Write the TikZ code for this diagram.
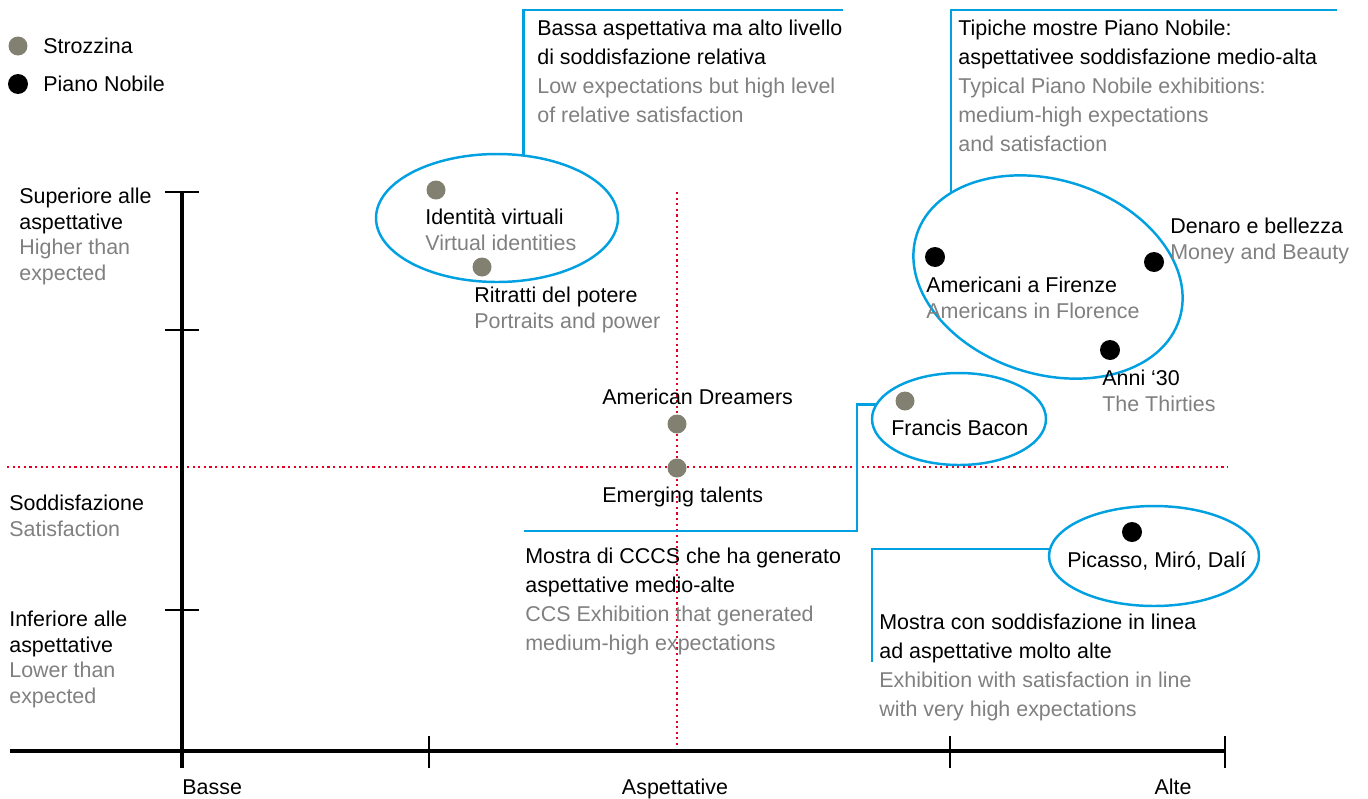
\documentclass[tikz,border=0pt]{standalone}
\usepackage{fontspec}
\setmainfont{Liberation Sans}
\usetikzlibrary{shapes.geometric}
\definecolor{engray}{RGB}{128,128,128}
\definecolor{strozgray}{RGB}{130,128,112}
\definecolor{leadblue}{RGB}{0,160,225}
\definecolor{axred}{RGB}{228,0,35}
\newcommand{\eng}[1]{\textcolor{engray}{#1}}
\tikzstyle{lbl} = [inner sep=0, anchor=base west, align=left, font=\fontsize{12.2}{14.8}\selectfont]
\tikzstyle{note} = [lbl, font=\fontsize{12.2}{16.5}\selectfont]
\tikzstyle{side} = [lbl, font=\fontsize{12.2}{14.5}\selectfont]
\tikzstyle{sdot} = [circle, fill=strozgray, inner sep=0, minimum size=0.38cm]
\tikzstyle{pdot} = [circle, fill=black, inner sep=0, minimum size=0.4cm]
\tikzstyle{ring} = [ellipse, draw=leadblue, line width=1.4pt, inner sep=0, outer sep=0]
\tikzstyle{lead} = [draw=leadblue, line width=1.4pt]
\tikzstyle{axis} = [line width=2.3pt]
\tikzstyle{axtick} = [line width=0.8pt]
\tikzstyle{mid} = [axred, dotted, line width=1.2pt]

\begin{document}
\begin{tikzpicture}[x=0.02cm, y=-0.02cm]
\useasboundingbox (0,0) rectangle (1368,798);

\node (legs) [sdot] at (18,46) {};
\node (legp) [pdot] at (18,84) {};
\node (legst) [lbl] at (43,53) {Strozzina};
\node (legpt) [lbl] at (43,91) {Piano Nobile};

\draw [mid] (7,467) -- (1228,467);
\draw [mid] (677,192) -- (677,751);

\draw [axis] (10,751) -- (1225,751);
\draw [axis] (182,192) -- (182,768);
\foreach \x in {429,950,1225} \draw [axtick] (\x,736) -- (\x,768);
\foreach \y in {192,330,610} \draw [axtick] (165,\y) -- (199,\y);

% multi-line texts sit on the baseline of their last line
\node (hi) [side] at (19,280) {Superiore alle\\aspettative\\\eng{Higher than}\\\eng{expected}};
\node (sat) [side] at (9,536) {Soddisfazione\\\eng{Satisfaction}};
\node (lo) [side] at (9,703) {Inferiore alle\\aspettative\\\eng{Lower than}\\\eng{expected}};
\node (basse) [lbl] at (182,794) {Basse};
\node (aspet) [lbl, anchor=base] at (675,794) {Aspettative};
\node (alte) [lbl, anchor=base] at (1173,794) {Alte};

\node (identell) [ring, minimum width=4.84cm, minimum height=2.56cm] at (497,218) {};
\node (pnell) [ring, minimum width=5.52cm, minimum height=3.88cm, rotate=-18] at (1048,277) {};
\node (baconell) [ring, minimum width=3.48cm, minimum height=1.84cm] at (959,419) {};
\node (picell) [ring, minimum width=4.2cm, minimum height=2.0cm] at (1154,556) {};

\node (ident) [sdot] at (436,190) {};
\node (ritr) [sdot] at (482,267) {};
\node (amdr) [sdot] at (677,424) {};
\node (emerg) [sdot] at (677,468) {};
\node (bacon) [sdot] at (905,401) {};
\node (amfi) [pdot] at (935,257) {};
\node (denaro) [pdot] at (1154,262) {};
\node (anni) [pdot] at (1110,350) {};
\node (picasso) [pdot] at (1132,532) {};

\node (identt) [lbl] at (425,250) {Identità virtuali\\\eng{Virtual identities}};
\node (ritrt) [lbl] at (474,328) {Ritratti del potere\\\eng{Portraits and power}};
\node (amdrt) [lbl] at (602,404) {American Dreamers};
\node (emergt) [lbl] at (602,502) {Emerging talents};
\node (bacont) [lbl] at (891,435) {Francis Bacon};
\node (amfit) [lbl] at (926,318) {Americani a Firenze\\\eng{Americans in Florence}};
\node (denarot) [lbl] at (1170,259) {Denaro e bellezza\\\eng{Money and Beauty}};
\node (annit) [lbl] at (1102,411) {Anni ‘30\\\eng{The Thirties}};
\node (picassot) [lbl] at (1067,567) {Picasso, Miró, Dalí};

\node (note1) [note] at (537,122) {Bassa aspettativa ma alto livello\\di soddisfazione relativa\\\eng{Low expectations but high level}\\\eng{of relative satisfaction}};
\node (note2) [note] at (958,151) {Tipiche mostre Piano Nobile:\\aspettativee soddisfazione medio-alta\\\eng{Typical Piano Nobile exhibitions:}\\\eng{medium-high expectations}\\\eng{and satisfaction}};
\node (note3) [note] at (525,650) {Mostra di CCCS che ha generato\\aspettative medio-alte\\\eng{CCS Exhibition that generated}\\\eng{medium-high expectations}};
\node (note4) [note] at (879,716) {Mostra con soddisfazione in linea\\ad aspettative molto alte\\\eng{Exhibition with satisfaction in line}\\\eng{with very high expectations}};

\coordinate (end1) at (843,10);
\coordinate (end2) at (1337,10);
\coordinate (bend3) at (857,531);
\coordinate (end3) at (524,531);
\coordinate (end4) at (872,662);

\draw [lead] (identell.67) |- (end1);
\draw [lead] (pnell.157) |- (end2);
\draw [lead] (baconell.170) -| (bend3) -- (end3);
\draw [lead] (picell.176) -| (end4);
\end{tikzpicture}
\end{document}
